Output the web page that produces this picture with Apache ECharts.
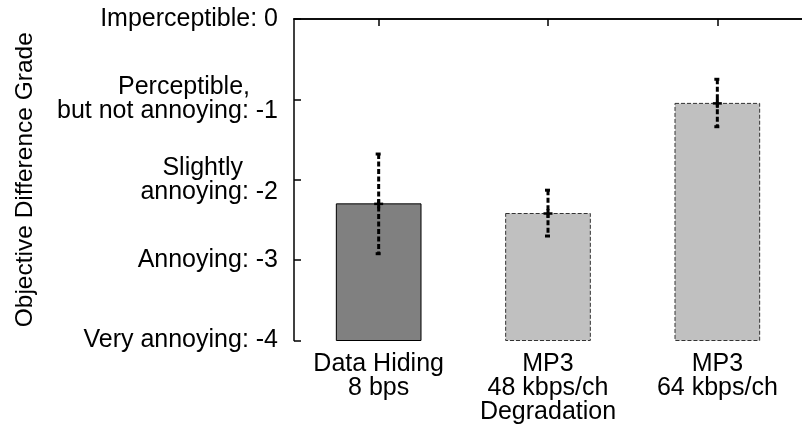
<!DOCTYPE html>
<html>
<head>
<meta charset="utf-8">
<script src="https://cdn.jsdelivr.net/npm/echarts@6/dist/echarts.min.js"></script>
<style>
html, body { margin: 0; padding: 0; background: #fff; }
#main { width: 802px; height: 425px; }
</style>
</head>
<body>
<div id="main"></div>
<script>
// values
var categories = ['Data Hiding\n8 bps', 'MP3\n48 kbps/ch\nDegradation', 'MP3\n64 kbps/ch'];
var grades = [-2.30, -2.42, -1.05];
var errLow = [-2.92, -2.70, -1.34];
var errHigh = [-1.68, -2.13, -0.75];
var yTickValues = [0, -1, -2, -3, -4];
var yTickLabels = [
	['Imperceptible: 0'],
	['Perceptible,', 'but not annoying: -1'],
	['Slightly', 'annoying: -2'],
	['Annoying: -3'],
	['Very annoying: -4']
];

var FONT = 'Liberation Sans, Arial, Helvetica, sans-serif';
var barFill = ['#808080', '#c0c0c0', '#c0c0c0'];
var barStroke = ['#000', '#333', '#333'];
var barDash = [null, [4, 2], [4, 2]];
// gnuplot puts trailing blanks on the first line of the two-line labels
var firstLinePad = { '-1': 'p28', '-2': 'p35' };

var myChart = echarts.init(document.getElementById('main'));

var data = [];
for (var i = 0; i < categories.length; i++) {
	data.push([i, grades[i], errLow[i], errHigh[i]]);
}

var tok = { fontSize: 25, lineHeight: 24, fontFamily: FONT, color: '#000' };

var option = {
	animation: false,
	grid: {
		left: 294,
		top: 19,
		bottom: 84,
		width: 519
	},
	xAxis: [{
		type: 'category',
		data: categories,
		position: 'bottom',
		axisLine: { lineStyle: { color: '#000', width: 1.5 } },
		axisTick: { show: false },
		axisLabel: {
			interval: 0,
			margin: 12,
			fontSize: 25,
			lineHeight: 24,
			fontFamily: FONT,
			color: '#000'
		}
	}, {
		type: 'category',
		data: categories,
		position: 'top',
		axisLine: { show: true, lineStyle: { color: '#000', width: 1.5 } },
		axisTick: { show: true, inside: true, alignWithLabel: true, interval: 0, length: 7, lineStyle: { color: '#000', width: 1.5 } },
		axisLabel: { show: false }
	}],
	yAxis: [{
		type: 'value',
		min: -4,
		max: 0,
		interval: 1,
		name: 'Objective Difference Grade',
		nameLocation: 'middle',
		nameGap: 256,
		nameTextStyle: { fontSize: 24.5, fontFamily: FONT, color: '#000' },
		splitLine: { show: false },
		axisLine: { show: true, lineStyle: { color: '#000', width: 1.5 } },
		axisTick: { show: true, inside: true, length: 7, lineStyle: { color: '#000', width: 1.5 } },
		axisLabel: {
			margin: 16,
			formatter: function (v) {
				var k = yTickValues.indexOf(v);
				if (k < 0) return '';
				var lines = yTickLabels[k];
				var out = [];
				for (var j = 0; j < lines.length; j++) {
					var st = (j === 0 && lines.length > 1 && firstLinePad[String(v)]) || 'l';
					out.push('{' + st + '|' + lines[j] + '}');
				}
				return out.join('\n');
			},
			rich: {
				l: tok,
				p28: echarts.util.extend({ padding: [0, 28, 0, 0] }, tok),
				p35: echarts.util.extend({ padding: [0, 35, 0, 0] }, tok)
			}
		}
	}],
	series: [{
		name: 'grade',
		type: 'custom',
		data: data,
		encode: { x: 0, y: 1 },
		z: 2,
		renderItem: function (params, api) {
			var i = api.value(0);
			var top = api.coord([i, api.value(1)]);
			var base = api.coord([i, -4]);
			var w = api.size([1, 0])[0] * 0.5;
			return {
				type: 'rect',
				shape: { x: top[0] - w / 2, y: top[1], width: w, height: base[1] - top[1] },
				style: {
					fill: barFill[i],
					stroke: barStroke[i],
					lineWidth: 1,
					lineDash: barDash[i]
				}
			};
		}
	}, {
		name: 'error',
		type: 'custom',
		data: data,
		encode: { x: 0, y: [2, 3] },
		z: 3,
		renderItem: function (params, api) {
			var i = api.value(0);
			var lo = api.coord([i, api.value(2)]);
			var hi = api.coord([i, api.value(3)]);
			var mid = api.coord([i, api.value(1)]);
			var x = mid[0];
			var st = { stroke: '#000', lineWidth: 3 };
			return {
				type: 'group',
				children: [{
					type: 'line',
					shape: { x1: x, y1: hi[1], x2: x, y2: lo[1] },
					style: { stroke: '#000', lineWidth: 3, lineDash: [5, 2.5] }
				}, {
					type: 'line',
					shape: { x1: x - 3, y1: hi[1], x2: x + 2, y2: hi[1] },
					style: st
				}, {
					type: 'line',
					shape: { x1: x - 3, y1: lo[1], x2: x + 2, y2: lo[1] },
					style: st
				}, {
					type: 'line',
					shape: { x1: x - 4.5, y1: mid[1], x2: x + 4.5, y2: mid[1] },
					style: { stroke: '#000', lineWidth: 2.5 }
				}, {
					type: 'line',
					shape: { x1: x, y1: mid[1] - 4.5, x2: x, y2: mid[1] + 4.5 },
					style: { stroke: '#000', lineWidth: 3 }
				}]
			};
		}
	}]
};

myChart.setOption(option);
window.onresize = myChart.resize;
</script>
</body>
</html>
